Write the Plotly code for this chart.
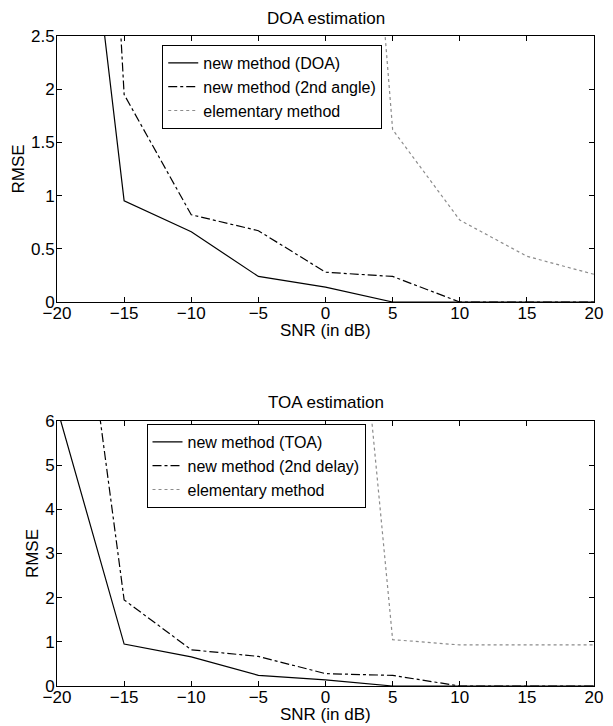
import plotly.graph_objects as go

snr = [-20, -15, -10, -5, 0, 5, 10, 15, 20]

doa_new = [6.3, 0.95, 0.66, 0.24, 0.14, 0.0, 0.0, 0.0, 0.0]
doa_2nd = [13.4, 1.95, 0.82, 0.67, 0.28, 0.24, 0.0, 0.0, 0.0]
doa_elem = [30.0, 25.0, 20.0, 15.0, 9.5, 1.62, 0.77, 0.43, 0.26]

toa_new = [6.3, 0.95, 0.66, 0.24, 0.14, 0.0, 0.0, 0.0, 0.0]
toa_2nd = [13.4, 1.95, 0.82, 0.67, 0.28, 0.24, 0.0, 0.0, 0.0]
toa_elem = [40.0, 35.0, 30.0, 24.0, 17.0, 1.05, 0.93, 0.93, 0.93]

x_ticks = [-20, -15, -10, -5, 0, 5, 10, 15, 20]
doa_yticks = [0, 0.5, 1, 1.5, 2, 2.5]
toa_yticks = [0, 1, 2, 3, 4, 5, 6]

FONT = "Liberation Sans, Arial, sans-serif"
FS = 17
LFS = 16

fig = go.Figure()

def add(x, y, name, dash, color, xa, ya, legend):
    fig.add_trace(go.Scatter(
        x=x, y=y, mode="lines", name=name,
        line=dict(color=color, width=1.2, dash=dash),
        xaxis=xa, yaxis=ya, legend=legend, cliponaxis=True,
    ))

add(snr, doa_new, "new method (DOA)", "solid", "black", "x", "y", "legend")
add(snr, doa_2nd, "new method (2nd angle)", "dashdot", "black", "x", "y", "legend")
add(snr, doa_elem, "elementary method", "dot", "#8c8c8c", "x", "y", "legend")

add(snr, toa_new, "new method (TOA)", "solid", "black", "x2", "y2", "legend2")
add(snr, toa_2nd, "new method (2nd delay)", "dashdot", "black", "x2", "y2", "legend2")
add(snr, toa_elem, "elementary method", "dot", "#8c8c8c", "x2", "y2", "legend2")

axis_common = dict(
    showline=True, linecolor="black", linewidth=1, mirror="ticks",
    ticks="inside", ticklen=5, tickcolor="black", showgrid=False,
    zeroline=False, tickfont=dict(family=FONT, size=FS, color="black"),
)

top_bottom = 1 - 266 / 650
bot_top = 1 - 385 / 650

def ann(text, y, yshift):
    return dict(text=text, x=0.5, y=y, xref="paper", yref="paper",
                xanchor="center", yanchor="middle", yshift=yshift, showarrow=False,
                borderpad=0, font=dict(family=FONT, size=FS, color="black"))

fig.update_layout(
    width=613, height=726,
    margin=dict(l=57, r=10, t=36, b=40),
    paper_bgcolor="white", plot_bgcolor="white",
    font=dict(family=FONT, size=FS, color="black"),
    xaxis=dict(domain=[0, 1], anchor="y", range=[-20, 20], tickvals=x_ticks,
               ticklabelstandoff=-4, **axis_common),
    yaxis=dict(domain=[top_bottom, 1], anchor="x", range=[0, 2.5], tickvals=doa_yticks,
               ticklabelstandoff=-2,
               title=dict(text="RMSE", standoff=2, font=dict(size=FS)), **axis_common),
    xaxis2=dict(domain=[0, 1], anchor="y2", range=[-20, 20], tickvals=x_ticks,
                ticklabelstandoff=-4, **axis_common),
    yaxis2=dict(domain=[0, bot_top], anchor="x2", range=[0, 6], tickvals=toa_yticks,
                ticklabelstandoff=-2,
                title=dict(text="RMSE", standoff=2, font=dict(size=FS)), **axis_common),
    legend=dict(x=(164 - 57) / 546, y=1 - 9 / 650, xanchor="left", yanchor="top",
                bordercolor="black", borderwidth=1, bgcolor="white",
                font=dict(family=FONT, size=LFS), itemwidth=30, tracegroupgap=0),
    legend2=dict(x=(148 - 57) / 546, y=1 - 388 / 650, xanchor="left", yanchor="top",
                 bordercolor="black", borderwidth=1, bgcolor="white",
                 font=dict(family=FONT, size=LFS), itemwidth=30, tracegroupgap=0),
    showlegend=True,
    annotations=[
        ann("DOA estimation", 1, 18),
        ann("TOA estimation", bot_top, 19),
        ann("SNR (in dB)", top_bottom, -28),
        ann("SNR (in dB)", 0, -28),
    ],
)

fig.write_html("out.html", config={"displayModeBar": False},
               post_script="document.body.style.margin='0px';")
